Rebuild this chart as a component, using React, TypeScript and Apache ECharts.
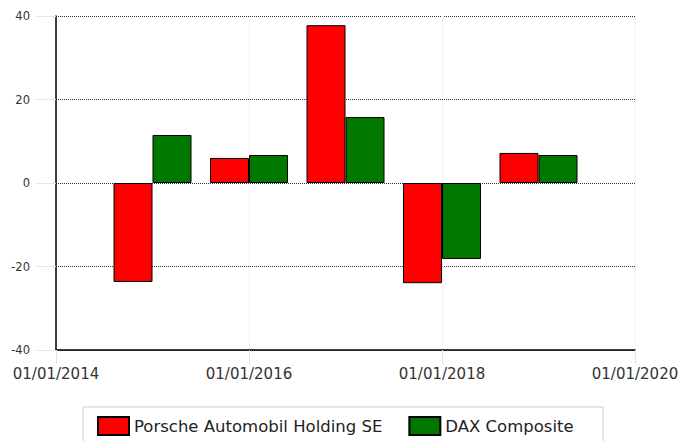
import React, { useEffect, useRef } from "react";
import * as echarts from "echarts";

const years = [2015, 2016, 2017, 2018, 2019];
const porsche = [-23.7, 6.0, 37.8, -24.0, 7.2];
const dax = [11.5, 6.7, 15.8, -18.2, 6.7];
const seriesNames = ["Porsche Automobil Holding SE", "DAX Composite"];
const colors = ["#ff0000", "#007800"];

export default function App() {
  const ref = useRef<HTMLDivElement>(null);
  useEffect(() => {
    if (!ref.current) return;
    const chart = echarts.init(ref.current, undefined, { renderer: "svg" });
    const font = "DejaVu Sans";
    chart.setOption({
      animation: false,
      textStyle: { fontFamily: font },
      grid: { left: 56, right: 43, top: 16, bottom: 91, outerBoundsMode: "none", containLabel: false },
      graphic: [
        {
          type: "rect",
          shape: { x: 83, y: 407, width: 520, height: 45 },
          style: { fill: "#fff", stroke: "#cccccc", lineWidth: 1 },
          z: 0,
        },
      ],
      legend: {
        left: 92,
        top: 411,
        itemWidth: 31,
        itemHeight: 18,
        itemGap: 26,
        icon: "rect",
        textStyle: { fontSize: 16.5, color: "#222", fontFamily: font },
        data: seriesNames,
        z: 5,
      },
      xAxis: {
        type: "value",
        min: 2014,
        max: 2020,
        interval: 2,
        axisLine: { show: true, onZero: false, lineStyle: { color: "#000", width: 1.5 } },
        axisTick: { show: true, length: 14, lineStyle: { color: "#dde8f5" } },
        axisLabel: {
          formatter: (v: number) => "01/01/" + v,
          fontSize: 15,
          color: "#333",
          margin: 16,
          fontFamily: font,
        },
        splitLine: { show: true, lineStyle: { color: "#dde8f5", type: "dotted" } },
      },
      yAxis: {
        type: "value",
        min: -40,
        max: 40,
        interval: 20,
        axisLine: { show: true, lineStyle: { color: "#000", width: 1.5 } },
        axisTick: { show: true, length: 20, lineStyle: { color: "#dde8f5" } },
        axisLabel: { fontSize: 11.5, color: "#333", margin: 26, fontFamily: font },
        splitLine: { show: true, lineStyle: { color: "#333", type: "dotted" } },
      },
      series: [porsche, dax].map((vals, i) => ({
        name: seriesNames[i],
        type: "bar",
        barWidth: 39,
        barGap: "0%",
        data: years.map((y, j) => [y, vals[j]]),
        itemStyle: { color: colors[i], borderColor: "#000", borderWidth: 1 },
      })),
    });
    return () => chart.dispose();
  }, []);
  return <div ref={ref} style={{ width: 678, height: 441, position: "absolute", left: 0, top: 0 }} />;
}
